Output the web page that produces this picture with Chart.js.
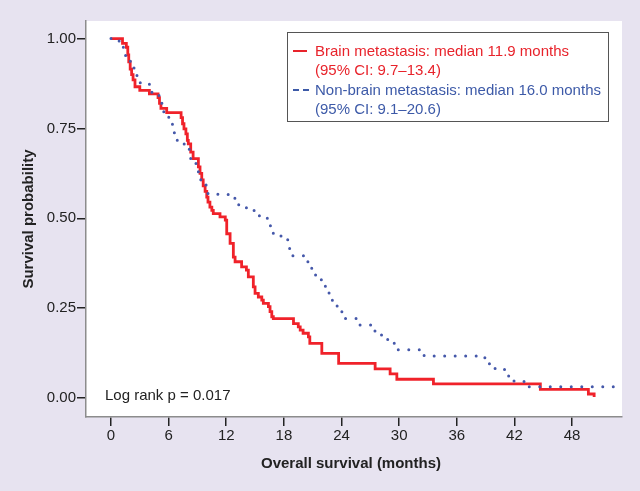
<!DOCTYPE html>
<html>
<head>
<meta charset="utf-8">
<script src="https://cdn.jsdelivr.net/npm/chart.js@4.4.1/dist/chart.umd.min.js"></script>
<style>
  html, body { margin: 0; padding: 0; background: #e7e3f0; }
  canvas { display: block; }
</style>
</head>
<body>
<canvas id="kmChart" width="640" height="491"></canvas>
<script>
// Kaplan-Meier steps: time of drop (months) -> survival after drop
const brainTimes = [0, 1.2, 1.6, 1.75, 1.85, 2.0, 2.15, 2.3, 2.5, 3.0, 4.0, 4.9, 5.05, 5.2, 5.8,
    7.3, 7.45, 7.6, 7.8, 7.95, 8.05, 8.3, 8.55, 9.1, 9.27, 9.45, 9.6, 9.8, 9.97, 10.1, 10.3, 10.5, 10.65,
    11.35, 11.9, 12.05, 12.4, 12.74, 12.92, 13.6, 14.1, 14.3, 14.82, 15.0, 15.34, 15.7, 15.86, 16.39,
    16.56, 16.74, 16.9, 19.0, 19.5, 19.7, 20.0, 20.55, 20.7, 21.95, 23.7, 27.5, 29.06, 29.76, 33.57,
    44.7, 49.7, 50.3];
const brainSurv = [1.0, 0.987, 0.976, 0.955, 0.935, 0.915, 0.9, 0.885, 0.866, 0.856, 0.846, 0.836, 0.82, 0.806, 0.794,
    0.78, 0.763, 0.749, 0.735, 0.717, 0.707, 0.684, 0.666, 0.643, 0.625, 0.607, 0.59, 0.575, 0.559, 0.545, 0.531, 0.522, 0.513,
    0.504, 0.495, 0.457, 0.43, 0.392, 0.379, 0.365, 0.356, 0.337, 0.309, 0.291, 0.281, 0.272, 0.263, 0.254,
    0.24, 0.226, 0.221, 0.207, 0.198, 0.189, 0.18, 0.17, 0.152, 0.124, 0.096, 0.081, 0.067, 0.052, 0.039,
    0.024, 0.011, 0.003];

const nonBrainTimes = [0, 0.85, 1.2, 1.35, 1.9, 2.2, 2.5, 2.95, 4.0, 4.7, 5.0, 5.3, 5.5, 6.2, 6.4, 6.6, 6.9,
    8.15, 8.3, 8.85, 9.1, 9.35, 9.9, 10.1, 12.2, 12.9, 13.3, 14.1, 14.9, 15.45, 16.6, 16.9, 17.7, 18.4,
    18.6, 18.9, 20.5, 20.9, 21.3, 21.9, 22.3, 22.7, 22.9, 23.4, 23.85, 24.15, 25.75, 27.4, 28.1, 28.75,
    29.4, 29.8, 32.6, 38.4, 39.0, 39.4, 40.97, 41.4, 43.0, 52.5];
const nonBrainSurv = [1.0, 0.993, 0.976, 0.953, 0.937, 0.918, 0.897, 0.877, 0.851, 0.842, 0.823, 0.802, 0.781, 0.77, 0.749, 0.726, 0.707,
    0.68, 0.659, 0.643, 0.619, 0.601, 0.59, 0.567, 0.559, 0.548, 0.531, 0.522, 0.515, 0.5, 0.478, 0.457, 0.447, 0.437,
    0.413, 0.396, 0.379, 0.36, 0.342, 0.328, 0.311, 0.292, 0.272, 0.256, 0.24, 0.221, 0.203, 0.186, 0.175, 0.163,
    0.152, 0.134, 0.117, 0.112, 0.099, 0.082, 0.067, 0.047, 0.031, 0.031];

const xTickValues = [0, 6, 12, 18, 24, 30, 36, 42, 48];
const yTickValues = [0, 0.25, 0.5, 0.75, 1];

const legendLines = [
    { text: 'Brain metastasis: median 11.9 months', color: '#e8232b', marker: 'solid' },
    { text: '(95% CI: 9.7\u201313.4)', color: '#e8232b', marker: null },
    { text: 'Non-brain metastasis: median 16.0 months', color: '#3d5aa8', marker: 'dash' },
    { text: '(95% CI: 9.1\u201320.6)', color: '#3d5aa8', marker: null }
];

const FONT = "'Liberation Sans', Arial, Helvetica, sans-serif";

function toPoints(times, values) {
    return times.map((t, i) => ({ x: t, y: values[i] }));
}

// white plotting panel
const panelPlugin = {
    id: 'panel',
    beforeDraw(chart) {
        const { ctx, chartArea: a } = chart;
        ctx.save();
        ctx.fillStyle = '#ffffff';
        ctx.fillRect(a.left, a.top, a.right - a.left, a.bottom - a.top);
        ctx.restore();
    }
};

// legend box, log-rank note and axis titles
const notesPlugin = {
    id: 'notes',
    afterDraw(chart) {
        const ctx = chart.ctx;
        ctx.save();

        // legend
        ctx.fillStyle = '#ffffff';
        ctx.fillRect(287.5, 32.5, 321, 89);
        ctx.strokeStyle = '#555555';
        ctx.lineWidth = 1;
        ctx.strokeRect(287.5, 32.5, 321, 89);

        const lineY = [51, 70, 90, 109];
        ctx.font = '15px ' + FONT;
        ctx.textBaseline = 'middle';
        ctx.textAlign = 'left';
        legendLines.forEach((ln, i) => {
            const y = lineY[i];
            if (ln.marker === 'solid') {
                ctx.strokeStyle = ln.color;
                ctx.lineWidth = 2;
                ctx.beginPath();
                ctx.moveTo(293, y);
                ctx.lineTo(307, y);
                ctx.stroke();
            } else if (ln.marker === 'dash') {
                ctx.strokeStyle = ln.color;
                ctx.lineWidth = 2;
                ctx.beginPath();
                ctx.moveTo(293, y);
                ctx.lineTo(299, y);
                ctx.moveTo(303, y);
                ctx.lineTo(309, y);
                ctx.stroke();
            }
            ctx.fillStyle = ln.color;
            ctx.fillText(ln.text, 315, y + 1);
        });

        // log rank note
        ctx.fillStyle = '#222222';
        ctx.font = '15px ' + FONT;
        ctx.fillText('Log rank p = 0.017', 105, 396);

        // axis titles
        ctx.font = 'bold 15px ' + FONT;
        ctx.textAlign = 'center';
        ctx.fillText('Overall survival (months)', 351, 464);
        ctx.translate(29, 219);
        ctx.rotate(-Math.PI / 2);
        ctx.fillText('Survival probability', 0, 0);

        ctx.restore();
    }
};

new Chart(document.getElementById('kmChart'), {
    type: 'line',
    data: {
        datasets: [
            {
                label: 'Non-brain metastasis',
                data: toPoints(nonBrainTimes, nonBrainSurv),
                borderColor: '#4558aa',
                borderWidth: 3,
                borderDash: [0, 10.5],
                borderCapStyle: 'round',
                stepped: true,
                pointRadius: 0,
                fill: false
            },
            {
                label: 'Brain metastasis',
                data: toPoints(brainTimes, brainSurv),
                borderColor: '#f0222a',
                borderWidth: 2.8,
                stepped: true,
                pointRadius: 0,
                fill: false
            }
        ]
    },
    options: {
        responsive: false,
        devicePixelRatio: 1,
        animation: false,
        layout: { padding: { left: 0, top: 21, right: 18, bottom: 0 } },
        plugins: {
            legend: { display: false },
            tooltip: { enabled: false }
        },
        scales: {
            x: {
                type: 'linear',
                min: -2.6,
                max: 53.2,
                afterBuildTicks: function(scale) {
                    scale.ticks = xTickValues.map(v => ({ value: v }));
                },
                afterFit: function(scale) {
                    scale.height = 74;
                },
                grid: { drawOnChartArea: false, tickLength: 9, tickColor: '#222222', lineWidth: 1.5 },
                border: { color: '#8c8c8c', width: 1.5 },
                ticks: {
                    color: '#222222',
                    padding: 1,
                    maxRotation: 0,
                    font: { family: FONT, size: 15 }
                }
            },
            y: {
                min: -0.053,
                max: 1.049,
                afterBuildTicks: function(scale) {
                    scale.ticks = yTickValues.map(v => ({ value: v }));
                },
                afterFit: function(scale) {
                    scale.width = 86;
                },
                grid: { drawOnChartArea: false, tickLength: 9, tickColor: '#222222', lineWidth: 1.5 },
                border: { color: '#8c8c8c', width: 1.5 },
                ticks: {
                    color: '#222222',
                    padding: 1,
                    font: { family: FONT, size: 15 },
                    callback: function(value) {
                        return value.toFixed(2);
                    }
                }
            }
        }
    },
    plugins: [panelPlugin, notesPlugin]
});
</script>
</body>
</html>
